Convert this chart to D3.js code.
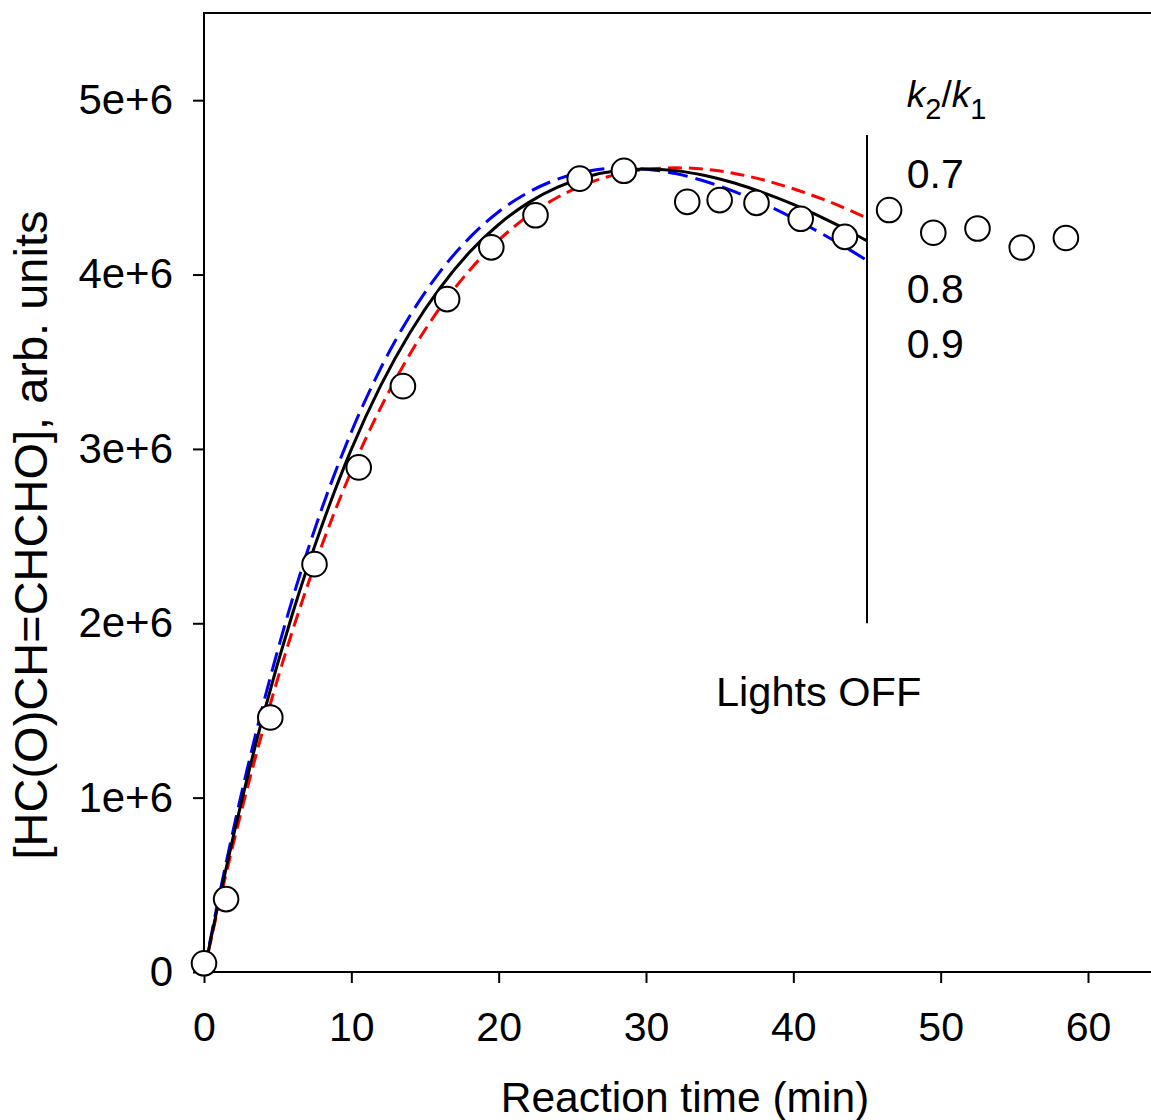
<!DOCTYPE html>
<html><head><meta charset="utf-8">
<script src="https://cdn.jsdelivr.net/npm/d3@7"></script>
<style>body{margin:0;background:#fff} text{font-family:"Liberation Sans", Arial, sans-serif; fill:#000}</style>
</head><body><svg id="c" width="1151" height="1120"></svg>
<script>
// measured points
const obsTime = [0, 1.5, 4.5, 7.5, 10.5, 13.5, 16.5, 19.5, 22.5, 25.5, 28.5, 32.8, 35, 37.5, 40.5, 43.5, 46.5, 49.5, 52.5, 55.5, 58.5];
const obsConc = [0.05e6, 0.418e6, 1.46e6, 2.339e6, 2.894e6, 3.36e6, 3.859e6, 4.156e6, 4.34e6, 4.55e6, 4.595e6, 4.417e6, 4.427e6, 4.411e6, 4.32e6, 4.216e6, 4.37e6, 4.24e6, 4.264e6, 4.155e6, 4.21e6];
// model curves
const fitTime = [0, 1, 2, 4, 6, 8, 10, 12, 14, 16, 18, 20, 22, 24, 26, 28, 30, 32, 34, 36, 38, 40, 42, 44, 45];
const fitK07 = [0, 0.382e6, 0.739e6, 1.388e6, 1.955e6, 2.447e6, 2.873e6, 3.238e6, 3.547e6, 3.807e6, 4.022e6, 4.197e6, 4.337e6, 4.443e6, 4.522e6, 4.574e6, 4.603e6, 4.612e6, 4.604e6, 4.580e6, 4.542e6, 4.492e6, 4.432e6, 4.362e6, 4.324e6];
const fitK08 = [0, 0.405e6, 0.782e6, 1.464e6, 2.053e6, 2.559e6, 2.997e6, 3.364e6, 3.669e6, 3.921e6, 4.126e6, 4.287e6, 4.411e6, 4.501e6, 4.561e6, 4.595e6, 4.605e6, 4.596e6, 4.568e6, 4.525e6, 4.468e6, 4.402e6, 4.325e6, 4.240e6, 4.193e6];
const fitK09 = [0, 0.425e6, 0.820e6, 1.529e6, 2.138e6, 2.658e6, 3.097e6, 3.464e6, 3.767e6, 4.014e6, 4.209e6, 4.360e6, 4.471e6, 4.547e6, 4.592e6, 4.610e6, 4.604e6, 4.579e6, 4.535e6, 4.476e6, 4.405e6, 4.323e6, 4.231e6, 4.133e6, 4.081e6];
const xTicks = [0, 10, 20, 30, 40, 50, 60];
const yTicks = [0, 1e6, 2e6, 3e6, 4e6, 5e6];
const yTickLabels = ["0", "1e+6", "2e+6", "3e+6", "4e+6", "5e+6"];
const ratioLabels = ["0.7", "0.8", "0.9"];
const lightsOffTime = 45;

const svg = d3.select("#c");
const x = d3.scaleLinear().domain([0, 60]).range([204, 1088]);
const y = d3.scaleLinear().domain([0, 5.5e6]).range([972, 13]);

// frame (right side extends beyond view)
svg.append("path").attr("d", `M${x(0)},${y(0)}V${y(5.5e6)}H${x(66)}`).attr("fill", "none").attr("stroke", "#000").attr("stroke-width", 2);

const xAxis = d3.axisBottom(x).tickValues(xTicks).tickSize(11).tickPadding(29).tickFormat(d3.format("d"));
const gx = svg.append("g").attr("transform", `translate(0,${y(0)})`).call(xAxis);
gx.select(".domain").attr("d", `M${x(0)},0H${x(66)}`).attr("stroke-width", 2);
gx.selectAll(".tick line").attr("stroke-width", 2);
gx.selectAll("text").style("font-size", "41px").attr("font-family", null);

const yAxis = d3.axisLeft(y).tickValues(yTicks).tickSize(11).tickPadding(20).tickFormat((d, i) => yTickLabels[i]);
const gy = svg.append("g").attr("transform", `translate(${x(0)},0)`).call(yAxis);
gy.select(".domain").remove();
gy.selectAll(".tick line").attr("stroke-width", 2);
gy.selectAll("text").style("font-size", "42px").attr("font-family", null);

// titles
svg.append("text").attr("x", 685).attr("y", 1112).attr("text-anchor", "middle").style("font-size", "42.5px").text("Reaction time (min)");
svg.append("text").attr("transform", `translate(47,${535}) rotate(-90)`).attr("text-anchor", "middle").style("font-size", "47px").text("[HC(O)CH=CHCHO], arb. units");

// curves
const line = d3.line().x((d) => x(d[0])).y((d) => y(d[1])).curve(d3.curveMonotoneX);
const mk = (arr) => fitTime.map((t, i) => [t, arr[i]]);
svg.append("path").attr("d", line(mk(fitK07))).attr("fill", "none").attr("stroke", "#ff0000").attr("stroke-width", 3).attr("stroke-dasharray", "14,7");
svg.append("path").attr("d", line(mk(fitK09))).attr("fill", "none").attr("stroke", "#0000ff").attr("stroke-width", 3).attr("stroke-dasharray", "20,8");
svg.append("path").attr("d", line(mk(fitK08))).attr("fill", "none").attr("stroke", "#000").attr("stroke-width", 3);

// lights off line
svg.append("line").attr("x1", x(lightsOffTime)).attr("x2", x(lightsOffTime)).attr("y1", y(4.8e6)).attr("y2", y(2.0e6)).attr("stroke", "#000").attr("stroke-width", 2);

// points
svg.append("g").selectAll("circle").data(obsTime.map((t, i) => [t, obsConc[i]])).join("circle")
  .attr("cx", (d) => x(d[0])).attr("cy", (d) => y(d[1])).attr("r", 12.3)
  .attr("fill", "#fff").attr("stroke", "#000").attr("stroke-width", 2);

// annotations
const kt = svg.append("text").attr("x", x(47.7)).attr("y", 107).style("font-size", "37px");
kt.append("tspan").style("font-style", "italic").text("k");
kt.append("tspan").attr("dy", 12).style("font-size", "29px").text("2");
kt.append("tspan").attr("dy", -12).text("/");
kt.append("tspan").style("font-style", "italic").text("k");
kt.append("tspan").attr("dy", 12).style("font-size", "29px").text("1");

const ratioY = [188, 303, 358];
ratioLabels.forEach((s, i) => {
  svg.append("text").attr("x", x(47.7)).attr("y", ratioY[i]).style("font-size", "41px").text(s);
});
svg.append("text").attr("x", 716).attr("y", 706).style("font-size", "41.5px").text("Lights OFF");
</script></body></html>
